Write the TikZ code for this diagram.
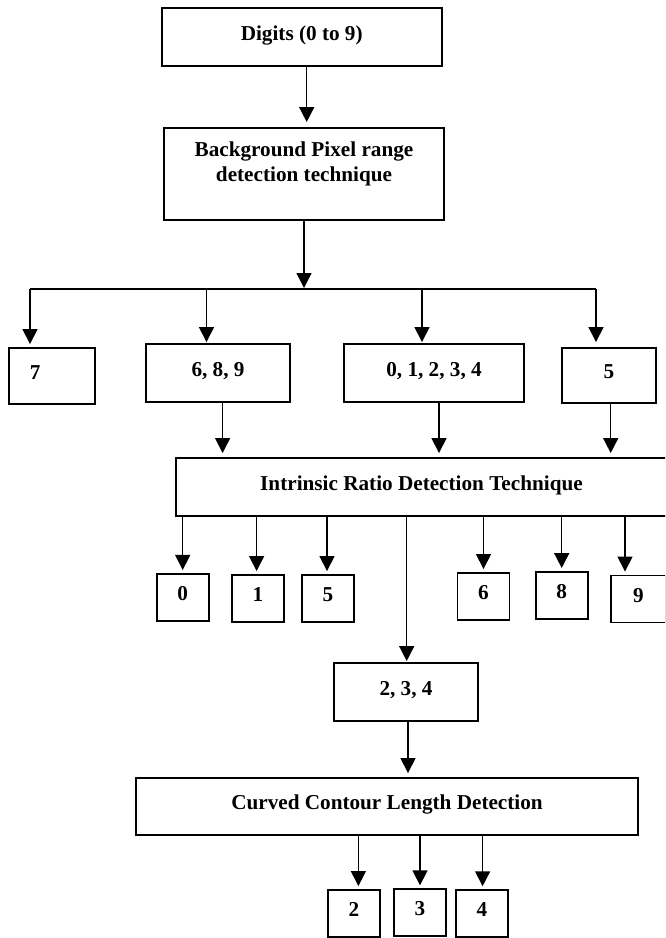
\documentclass[tikz,border=0pt]{standalone}
\usepackage{fontspec}
\setmainfont{Liberation Serif}
\usetikzlibrary{arrows.meta}

\tikzset{
  blk/.style={draw=black,line width=1.9pt,align=center,inner sep=2pt,
    font=\fontsize{21.2}{24.4}\selectfont\bfseries},
  one/.style={blk,text height=15pt,text depth=9pt},
  dig/.style={one,minimum width=52pt,minimum height=47pt},
  wire/.style={line width=1.5pt},
  arr/.style={wire,-{Triangle[length=15pt,width=15pt]}},
}

\begin{document}
\begin{tikzpicture}[x=1pt,y=-1pt]
\useasboundingbox (0,0) rectangle (665,938);
\clip (0,0) rectangle (665,938);
% first stage
\node[one,minimum width=280pt,minimum height=57.4pt] (digits) at (301.7,37) {Digits (0 to 9)};
\node[blk,minimum width=280pt,minimum height=92pt] (bg) at (304,174) {Background Pixel range\\detection technique\\\mbox{}};
\node[one,minimum width=86pt,minimum height=56pt,text width=44pt,align=left] (b7) at (52,376) {7};
\node[one,minimum width=144pt,minimum height=58pt] (b689) at (218,373) {6, 8, 9};
\node[one,minimum width=180pt,minimum height=58pt] (b01234) at (434,373) {0, 1, 2, 3, 4};
\node[one,minimum width=94.5pt,minimum height=55pt] (b5) at (609,375.5) {5};
% second stage
\node[one,minimum width=491.6pt,minimum height=58pt] (irdt) at (421.5,487) {Intrinsic Ratio Detection Technique};
\node[dig] (s0) at (182.7,597.4) {0};
\node[dig] (s1) at (258,598.5) {1};
\node[dig] (s5) at (328,598.5) {5};
\node[dig] (s6) at (483.5,596.5) {6};
\node[dig] (s8) at (561.7,595.5) {8};
\node[dig,minimum width=55pt] (s9) at (638.3,599) {9};
\node[one,minimum width=144pt,minimum height=58pt] (b234) at (406,692) {2, 3, 4};
% third stage
\node[one,minimum width=502.6pt,minimum height=57pt] (ccld) at (387,806.5) {Curved Contour Length Detection};
\node[dig] (f2) at (354,913.5) {2};
\node[dig] (f3) at (420,912.8) {3};
\node[dig] (f4) at (482,913.7) {4};
% branch points on the bus
\coordinate (bus) at (304,289);
\coordinate (j7) at (30,289);
\coordinate (j689) at (206.5,289);
\coordinate (j01234) at (422,289);
\coordinate (j5) at (596,289);
% connectors
\draw[arr,shorten >=5pt] ([xshift=5pt]digits.south) -- ([xshift=2.7pt]bg.north);
\draw[arr,shorten >=1pt] (bg.south) -- (bus);
\draw[wire] (j7) -- (j5);
\draw[arr,shorten >=3pt] (j7) -- (j7 |- b7.north);
\draw[arr,shorten >=1pt] (j689) -- (j689 |- b689.north);
\draw[arr,shorten >=1pt] (j01234) -- (j01234 |- b01234.north);
\draw[arr,shorten >=5pt] (j5) -- (j5 |- b5.north);
\draw[arr,shorten >=4pt] ([xshift=4.6pt]b689.south) -- ([xshift=4.6pt]b689.south |- irdt.north);
\draw[arr,shorten >=4pt] ([xshift=5pt]b01234.south) -- ([xshift=5pt]b01234.south |- irdt.north);
\draw[arr,shorten >=4pt] ([xshift=1.7pt]b5.south) -- ([xshift=1.7pt]b5.south |- irdt.north);
\draw[arr,shorten >=3pt] (s0.north |- irdt.south) -- (s0.north);
\draw[arr,shorten >=3pt] ([xshift=-1.4pt]s1.north |- irdt.south) -- ([xshift=-1.4pt]s1.north);
\draw[arr,shorten >=3pt] ([xshift=-1pt]s5.north |- irdt.south) -- ([xshift=-1pt]s5.north);
\draw[arr,shorten >=3pt] (s6.north |- irdt.south) -- (s6.north);
\draw[arr,shorten >=3pt] (s8.north |- irdt.south) -- (s8.north);
\draw[arr,shorten >=3pt] ([xshift=-13.3pt]s9.north |- irdt.south) -- ([xshift=-13.3pt]s9.north);
\draw[arr,shorten >=1pt] ([xshift=0.7pt]b234.north |- irdt.south) -- ([xshift=0.7pt]b234.north);
\draw[arr,shorten >=4pt] ([xshift=2pt]b234.south) -- ([xshift=2pt]b234.south |- ccld.north);
\draw[arr,shorten >=3pt] ([xshift=4.4pt]f2.north |- ccld.south) -- ([xshift=4.4pt]f2.north);
\draw[arr,shorten >=3pt] (f3.north |- ccld.south) -- (f3.north);
\draw[arr,shorten >=3pt] ([xshift=0.6pt]f4.north |- ccld.south) -- ([xshift=0.6pt]f4.north);
\end{tikzpicture}
\end{document}
